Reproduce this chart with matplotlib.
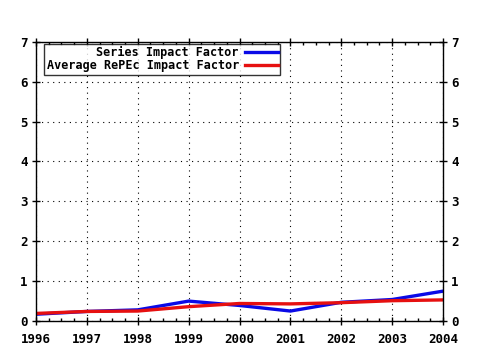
import numpy as np
import matplotlib
matplotlib.use('Agg')
import matplotlib.pyplot as plt
from matplotlib.ticker import MultipleLocator

years = [1996, 1997, 1998, 1999, 2000, 2001, 2002, 2003, 2004]
series_if = [0.16, 0.23, 0.27, 0.49, 0.38, 0.24, 0.46, 0.53, 0.74]
repec_avg_if = [0.18, 0.23, 0.24, 0.35, 0.43, 0.42, 0.45, 0.50, 0.52]

y_ticks = [0, 1, 2, 3, 4, 5, 6, 7]

plt.rcParams['font.family'] = ['DejaVu Sans Mono']
plt.rcParams['font.weight'] = 'bold'
plt.rcParams['font.size'] = 9

fig = plt.figure(figsize=(4.8, 3.5), dpi=100)
ax = fig.add_axes([0.075, 0.084, 0.848, 0.796])

ax.plot(years, series_if, color='#0a0ae6', lw=2.4, label='Series Impact Factor')
ax.plot(years, repec_avg_if, color='#e61010', lw=2.4, label='Average RePEc Impact Factor')

ax.set_xlim(1996, 2004)
ax.set_ylim(0, 7)
ax.set_xticks(years)
ax.set_yticks(y_ticks)
ax.xaxis.set_minor_locator(MultipleLocator(0.25))
ax.grid(True, which='major', color='black', linestyle=(0, (1, 4)), lw=0.8)

for s in ax.spines.values():
    s.set_linewidth(1.0)
    s.set_color('black')

ax.tick_params(which='major', direction='inout', length=6, width=1,
               top=True, right=True, labelright=True, pad=3)
ax.tick_params(which='minor', direction='in', length=2.5, width=1, top=True)
ax.tick_params(axis='x', pad=6)
for lbl in ax.get_xticklabels() + ax.get_yticklabels():
    lbl.set_fontweight('bold')

leg = ax.legend(loc='upper left', bbox_to_anchor=(0.02, 0.993), frameon=True,
                fancybox=False, markerfirst=False, handlelength=2.8,
                borderpad=0.2, labelspacing=0.0, handletextpad=0.5,
                borderaxespad=0.0, prop={'family': 'DejaVu Sans Mono',
                                         'weight': 'bold', 'size': 8.5})
leg.get_frame().set_edgecolor('black')
leg.get_frame().set_linewidth(1.0)
for t in leg.get_texts():
    t.set_ha('right')
leg._legend_box.align = 'right'

fig.savefig('out.png', dpi=100)
